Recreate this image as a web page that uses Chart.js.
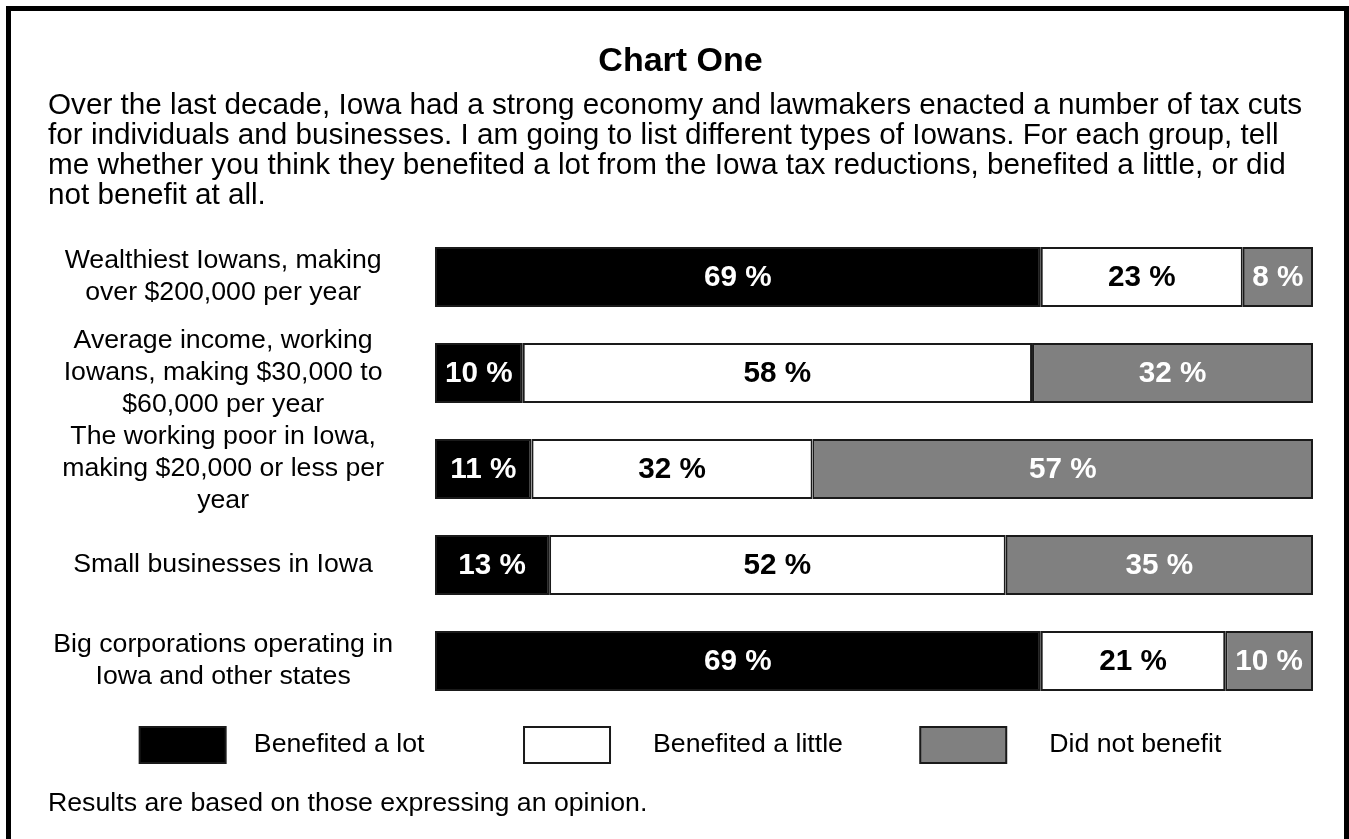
<!DOCTYPE html>
<html>
<head>
<meta charset="utf-8">
<script src="https://cdn.jsdelivr.net/npm/chart.js@4.4.1/dist/chart.umd.min.js"></script>
<style>
  html, body { margin: 0; padding: 0; background: #fff; overflow: hidden; }
  #frame { position: absolute; left: 6px; top: 6px; width: 1333px; height: 900px; border: 5px solid #000; box-sizing: content-box; }
  #wrap { position: absolute; left: 0; top: 0; width: 1349px; height: 839px; }
  #footer { position: absolute; left: 48px; top: 786px; font-family: "Liberation Sans", Arial, sans-serif; font-size: 26.7px; line-height: 32px; color: #000; white-space: nowrap; }
</style>
</head>
<body>
<div id="frame"></div>
<div id="wrap"><canvas id="c"></canvas></div>
<div id="footer">Results are based on those expressing an opinion.</div>
<script>
const titleText = "Chart One";
const introLines = [
  "Over the last decade, Iowa had a strong economy and lawmakers enacted a number of tax cuts",
  "for individuals and businesses. I am going to list different types of Iowans. For each group, tell",
  "me whether you think they benefited a lot from the Iowa tax reductions, benefited a little, or did",
  "not benefit at all."
];
const categories = [
  ["Wealthiest Iowans, making", "over $200,000 per year"],
  ["Average income, working", "Iowans, making $30,000 to", "$60,000 per year"],
  ["The working poor in Iowa,", "making $20,000 or less per", "year"],
  ["Small businesses in Iowa"],
  ["Big corporations operating in", "Iowa and other states"]
];
const seriesNames = ["Benefited a lot", "Benefited a little", "Did not benefit"];
const benefitedALot = [69, 10, 11, 13, 69];
const benefitedALittle = [23, 58, 32, 52, 21];
const didNotBenefit = [8, 32, 57, 35, 10];

const FONT = '"Liberation Sans", Arial, sans-serif';
Chart.defaults.font.family = FONT;
Chart.defaults.color = '#000';

const fills = ['#000000', '#ffffff', '#808080'];
const labelColors = ['#ffffff', '#000000', '#ffffff'];
const legendLead = [2, 4, 4];
const legendTrail = [11, 8, 0];

const barLabels = {
  id: 'barLabels',
  afterDatasetsDraw(chart) {
    const ctx = chart.ctx;
    const area = chart.chartArea;
    ctx.save();
    ctx.beginPath();
    ctx.rect(area.left, area.top, area.right - area.left, area.bottom - area.top);
    ctx.clip();
    ctx.font = 'bold 29.7px ' + FONT;
    ctx.textAlign = 'center';
    ctx.textBaseline = 'middle';
    chart.data.datasets.forEach((ds, i) => {
      const meta = chart.getDatasetMeta(i);
      ctx.fillStyle = labelColors[i];
      meta.data.forEach((bar, j) => {
        const cx = (bar.x + bar.base) / 2;
        ctx.fillText(ds.data[j] + ' %', cx, bar.y + 1);
      });
    });
    ctx.restore();
  }
};

const pad = (s, lead, trail) => ' '.repeat(lead) + s + ' '.repeat(trail);

new Chart(document.getElementById('c'), {
  type: 'bar',
  data: {
    labels: categories,
    datasets: [
      { label: seriesNames[0], data: benefitedALot },
      { label: seriesNames[1], data: benefitedALittle },
      { label: seriesNames[2], data: didNotBenefit }
    ].map((d, i) => Object.assign(d, {
      backgroundColor: fills[i],
      borderColor: '#1a1a1a',
      borderWidth: 2,
      borderSkipped: false,
      barPercentage: 0.625,
      categoryPercentage: 1
    }))
  },
  options: {
    indexAxis: 'y',
    responsive: true,
    maintainAspectRatio: false,
    animation: false,
    layout: { padding: { left: 48, right: 36, top: 24, bottom: 66 } },
    scales: {
      x: { stacked: true, min: 0, max: 100, display: false },
      y: {
        stacked: true,
        grid: { display: false },
        border: { display: false },
        ticks: {
          autoSkip: false,
          crossAlign: 'center',
          padding: 34,
          color: '#000',
          font: { size: 26.7, lineHeight: '32px' }
        },
        afterFit(scale) { scale.width = 387; }
      }
    },
    plugins: {
      title: {
        display: true,
        text: titleText,
        color: '#000',
        font: { size: 34, weight: 'bold', lineHeight: '36px' },
        padding: { top: 20, bottom: 9 }
      },
      subtitle: {
        display: true,
        text: introLines,
        align: 'start',
        color: '#000',
        font: { size: 29.7, lineHeight: '30px' },
        padding: { top: 2, bottom: 18 }
      },
      legend: {
        position: 'bottom',
        labels: {
          boxWidth: 86,
          boxHeight: 36,
          padding: 18,
          color: '#000',
          font: { size: 26.7 },
          generateLabels(chart) {
            const items = Chart.defaults.plugins.legend.labels.generateLabels(chart);
            items.forEach((it, i) => { it.text = pad(it.text, legendLead[i], legendTrail[i]); });
            return items;
          }
        }
      },
      tooltip: { enabled: false }
    }
  },
  plugins: [barLabels]
});
</script>
</body>
</html>
